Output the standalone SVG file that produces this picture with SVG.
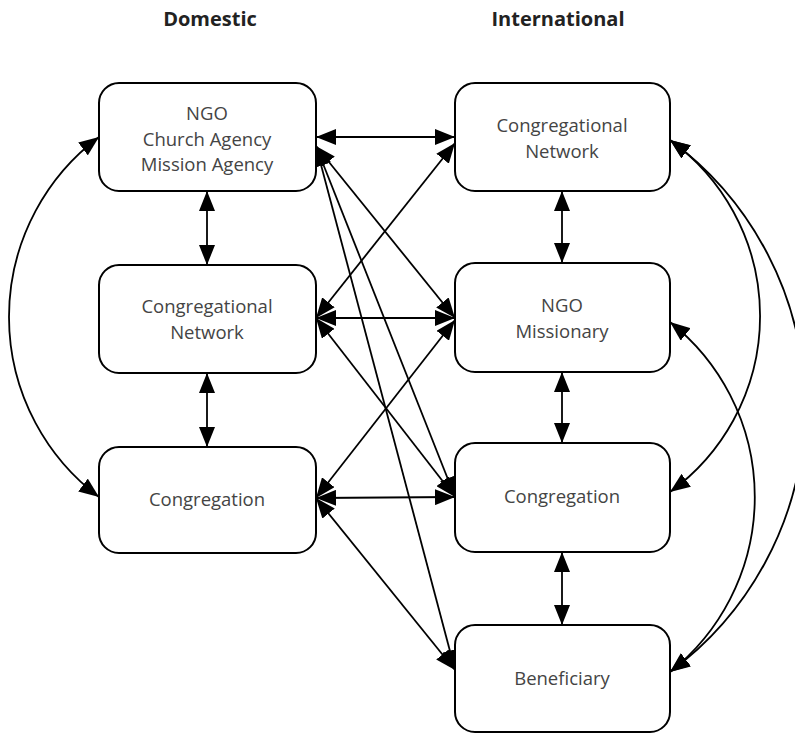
<svg xmlns="http://www.w3.org/2000/svg" width="795" height="734" viewBox="0 0 795 734">
<style>
.box{fill:#fff;stroke:#000;stroke-width:2}
.lbl{font-family:"Open Sans","Liberation Sans",sans-serif;font-size:18.5px;fill:#444;text-anchor:middle}
.hdr{font-family:"Open Sans","Liberation Sans",sans-serif;font-size:20px;font-weight:bold;fill:#222;text-anchor:middle}
.c{fill:none;stroke:#000;stroke-width:1.8;marker-start:url(#ah);marker-end:url(#ah)}
</style>
<defs>
<marker id="ah" markerUnits="userSpaceOnUse" markerWidth="20" markerHeight="16" refX="20" refY="8" orient="auto-start-reverse">
<path d="M0,0 L20,8 L0,16 z" fill="#000"/>
</marker>
</defs>
<text class="hdr" x="210" y="26">Domestic</text>
<text class="hdr" x="558" y="26">International</text>
<g id="connectors">
<line class="c" x1="316" y1="137" x2="455" y2="137"/>
<line class="c" x1="207" y1="191" x2="207" y2="265"/>
<line class="c" x1="207" y1="373" x2="207" y2="447"/>
<line class="c" x1="562" y1="191" x2="562" y2="263"/>
<line class="c" x1="562" y1="372" x2="562" y2="443"/>
<line class="c" x1="562" y1="552" x2="562" y2="625"/>
<line class="c" x1="316" y1="146" x2="455" y2="318"/>
<line class="c" x1="316" y1="146" x2="455" y2="497"/>
<line class="c" x1="316" y1="146" x2="455" y2="670"/>
<line class="c" x1="316" y1="318" x2="455" y2="143"/>
<line class="c" x1="316" y1="318" x2="455" y2="318"/>
<line class="c" x1="316" y1="318" x2="455" y2="497"/>
<line class="c" x1="316" y1="498" x2="455" y2="320"/>
<line class="c" x1="316" y1="498" x2="455" y2="497"/>
<line class="c" x1="316" y1="498" x2="455" y2="670"/>
<path class="c" d="M99,137 A225,225 0 0 0 99,497"/>
<path class="c" d="M670,140 A217,217 0 0 1 670,492"/>
<path class="c" d="M670,140 A330,330 0 0 1 670,672"/>
<path class="c" d="M670,322 A223,223 0 0 1 670,672"/>
</g>
<g id="d-ngo">
<rect class="box" x="99" y="83" width="217" height="108" rx="20"/>
<text class="lbl" x="207" y="120">NGO</text>
<text class="lbl" x="207" y="146">Church Agency</text>
<text class="lbl" x="207" y="171">Mission Agency</text>
</g>
<g id="d-network">
<rect class="box" x="99" y="265" width="217" height="108" rx="20"/>
<text class="lbl" x="207" y="313">Congregational</text>
<text class="lbl" x="207" y="339">Network</text>
</g>
<g id="d-congregation">
<rect class="box" x="99" y="447" width="217" height="106" rx="20"/>
<text class="lbl" x="207" y="506">Congregation</text>
</g>
<g id="i-network">
<rect class="box" x="455" y="83" width="215" height="108" rx="20"/>
<text class="lbl" x="562" y="132">Congregational</text>
<text class="lbl" x="562" y="158">Network</text>
</g>
<g id="i-ngo">
<rect class="box" x="455" y="263" width="215" height="109" rx="20"/>
<text class="lbl" x="562" y="312">NGO</text>
<text class="lbl" x="562" y="338">Missionary</text>
</g>
<g id="i-congregation">
<rect class="box" x="455" y="443" width="215" height="109" rx="20"/>
<text class="lbl" x="562" y="503">Congregation</text>
</g>
<g id="i-beneficiary">
<rect class="box" x="455" y="625" width="215" height="107" rx="20"/>
<text class="lbl" x="562" y="685">Beneficiary</text>
</g>
</svg>
